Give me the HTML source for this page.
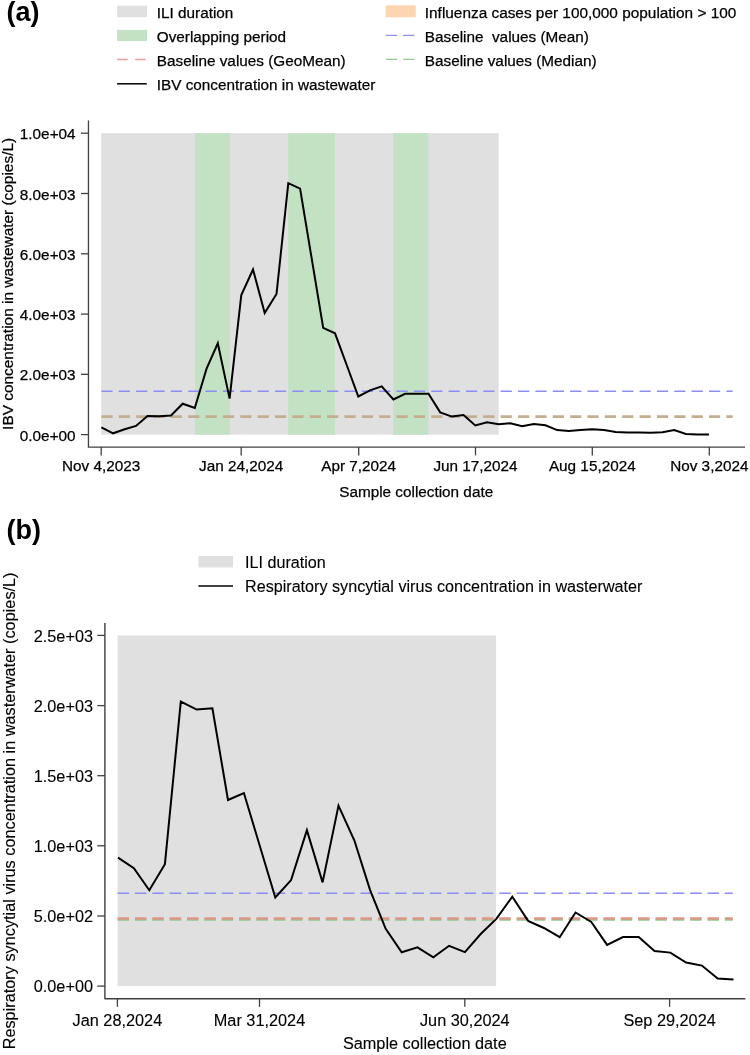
<!DOCTYPE html>
<html><head><meta charset="utf-8"><style>
html,body{margin:0;padding:0;background:#fff;}
svg{display:block;will-change:transform;}
text{font-family:"Liberation Sans",sans-serif;fill:#000;stroke:#000;stroke-width:0.25px;}
.pb text{stroke-width:0.12px;}
</style></head><body>
<svg width="750" height="1055" viewBox="0 0 750 1055">
<rect x="0" y="0" width="750" height="1055" fill="#fff"/>
<text x="6.5" y="21.0" font-size="27" font-weight="bold" style="stroke-width:0">(a)</text>
<rect x="117.1" y="5.6" width="29.9" height="11.6" fill="#e0e0e0"/>
<rect x="117.1" y="29.9" width="29.9" height="11.2" fill="#c3e2c3"/>
<line x1="117.1" y1="59.6" x2="147" y2="59.6" stroke="#e8a0a0" stroke-width="1.5" stroke-dasharray="10.6 7.5"/>
<line x1="117.1" y1="83.8" x2="146.8" y2="83.8" stroke="#000" stroke-width="1.5"/>
<text x="156.8" y="17.6" font-size="15.3" >ILI duration</text>
<text x="156.8" y="41.6" font-size="15.3" >Overlapping period</text>
<text x="156.8" y="65.6" font-size="15.3" >Baseline values (GeoMean)</text>
<text x="156.8" y="89.6" font-size="15.3" >IBV concentration in wastewater</text>
<rect x="385.6" y="5.3" width="30.1" height="12" fill="#fdd5b1"/>
<line x1="385.8" y1="35.3" x2="415.5" y2="35.3" stroke="#9090ee" stroke-width="1.3" stroke-dasharray="11.3 6"/>
<line x1="385.8" y1="59.3" x2="415.5" y2="59.3" stroke="#98c898" stroke-width="1.3" stroke-dasharray="11.3 6"/>
<text x="424.8" y="17.7" font-size="15.3" textLength="311.5" lengthAdjust="spacingAndGlyphs">Influenza cases per 100,000 population &gt; 100</text>
<text x="424.8" y="41.7" font-size="15.3" >Baseline&#160; values (Mean)</text>
<text x="424.8" y="65.6" font-size="15.3" >Baseline values (Median)</text>
<rect x="101.2" y="133.2" width="397.5" height="301.5" fill="#e0e0e0"/>
<rect x="195.0" y="133.2" width="34.9" height="301.5" fill="#c3e2c3"/>
<rect x="288.2" y="133.2" width="46.6" height="301.5" fill="#c3e2c3"/>
<rect x="393.3" y="133.2" width="35.2" height="301.5" fill="#c3e2c3"/>
<line x1="101.4" y1="391.2" x2="732.6" y2="391.2" stroke="#8c8cf5" stroke-width="1.6" stroke-dasharray="11.2 6.16"/>
<line x1="101.4" y1="416.6" x2="732.6" y2="416.6" stroke="#c4ae90" stroke-width="2.8" stroke-dasharray="11.2 6.16"/>
<path d="M101.4,427.3 L113.1,433.3 L124.7,429.3 L136.0,425.9 L147.5,416.0 L159.2,416.2 L171.0,415.5 L182.7,403.7 L194.8,408.0 L206.5,368.9 L217.8,343.3 L229.6,398.6 L241.3,295.0 L253.0,269.5 L264.7,313.1 L276.5,294.0 L288.3,183.2 L300.1,188.6 L323.2,327.9 L335.0,333.3 L346.7,365.0 L358.3,396.5 L370.0,390.4 L381.7,386.4 L393.4,399.5 L405.1,393.8 L416.8,393.8 L428.5,393.8 L440.2,412.4 L451.9,416.6 L463.6,415.0 L475.3,425.4 L487.0,422.3 L498.7,424.3 L510.4,423.3 L522.1,426.3 L533.8,424.0 L545.5,425.3 L557.2,430.1 L568.9,431.0 L580.6,430.1 L592.3,429.3 L604.0,430.1 L615.7,432.0 L627.4,432.4 L639.1,432.6 L650.8,432.8 L662.5,432.2 L674.2,430.0 L685.9,434.0 L697.6,434.4 L709.0,434.6" fill="none" stroke="#000" stroke-width="2" stroke-linejoin="miter"/>
<path d="M88.45,120.4 L88.45,447.1 L745,447.1" fill="none" stroke="#404040" stroke-width="1.3"/>
<line x1="81" y1="434.6" x2="88.5" y2="434.6" stroke="#404040" stroke-width="1.3"/>
<text x="75.6" y="440.7" font-size="15.3" text-anchor="end">0.0e+00</text>
<line x1="81" y1="374.3" x2="88.5" y2="374.3" stroke="#404040" stroke-width="1.3"/>
<text x="75.6" y="380.4" font-size="15.3" text-anchor="end">2.0e+03</text>
<line x1="81" y1="314.1" x2="88.5" y2="314.1" stroke="#404040" stroke-width="1.3"/>
<text x="75.6" y="320.2" font-size="15.3" text-anchor="end">4.0e+03</text>
<line x1="81" y1="253.8" x2="88.5" y2="253.8" stroke="#404040" stroke-width="1.3"/>
<text x="75.6" y="259.9" font-size="15.3" text-anchor="end">6.0e+03</text>
<line x1="81" y1="193.5" x2="88.5" y2="193.5" stroke="#404040" stroke-width="1.3"/>
<text x="75.6" y="199.6" font-size="15.3" text-anchor="end">8.0e+03</text>
<line x1="81" y1="133.2" x2="88.5" y2="133.2" stroke="#404040" stroke-width="1.3"/>
<text x="75.6" y="139.3" font-size="15.3" text-anchor="end">1.0e+04</text>
<line x1="101.2" y1="447.1" x2="101.2" y2="455.4" stroke="#404040" stroke-width="1.3"/>
<text x="101.2" y="471.4" font-size="15.3" text-anchor="middle">Nov 4,2023</text>
<line x1="241.2" y1="447.1" x2="241.2" y2="455.4" stroke="#404040" stroke-width="1.3"/>
<text x="241.2" y="471.4" font-size="15.3" text-anchor="middle">Jan 24,2024</text>
<line x1="358.7" y1="447.1" x2="358.7" y2="455.4" stroke="#404040" stroke-width="1.3"/>
<text x="358.7" y="471.4" font-size="15.3" text-anchor="middle">Apr 7,2024</text>
<line x1="475.5" y1="447.1" x2="475.5" y2="455.4" stroke="#404040" stroke-width="1.3"/>
<text x="475.5" y="471.4" font-size="15.3" text-anchor="middle">Jun 17,2024</text>
<line x1="592.3" y1="447.1" x2="592.3" y2="455.4" stroke="#404040" stroke-width="1.3"/>
<text x="592.3" y="471.4" font-size="15.3" text-anchor="middle">Aug 15,2024</text>
<line x1="709.3" y1="447.1" x2="709.3" y2="455.4" stroke="#404040" stroke-width="1.3"/>
<text x="709.3" y="471.4" font-size="15.3" text-anchor="middle">Nov 3,2024</text>
<text x="416.2" y="496.8" font-size="15.3" text-anchor="middle">Sample collection date</text>
<text transform="translate(13.1,283.9) rotate(-90)" x="0" y="0" font-size="15.42" text-anchor="middle">IBV concentration in wastewater (copies/L)</text>
<g class="pb">
<text x="6.5" y="538.8" font-size="27" font-weight="bold" style="stroke-width:0">(b)</text>
<rect x="198.4" y="556" width="34.6" height="11.4" fill="#e0e0e0"/>
<line x1="198.4" y1="586" x2="233" y2="586" stroke="#000" stroke-width="1.6"/>
<text x="245" y="568" font-size="16.15" >ILI duration</text>
<text x="245" y="591.6" font-size="16.15" >Respiratory syncytial virus concentration in wasterwater</text>
<rect x="117.6" y="635.5" width="378.5" height="350.6" fill="#e0e0e0"/>
<line x1="117.6" y1="893.3" x2="732.8" y2="893.3" stroke="#8c8cf5" stroke-width="1.6" stroke-dasharray="11.5 5.85"/>
<line x1="117.6" y1="919.8" x2="732.8" y2="919.8" stroke="#90c890" stroke-width="2" stroke-dasharray="11.5 5.85"/>
<line x1="117.6" y1="918.5" x2="732.8" y2="918.5" stroke="#dc9886" stroke-width="2.4" stroke-dasharray="11.5 5.85"/>
<path d="M118.0,857.6 L133.9,868.2 L149.3,890.2 L164.9,864.2 L180.8,701.6 L196.7,709.6 L212.4,708.3 L228.0,800.0 L243.9,793.0 L275.3,897.5 L291.1,880.1 L306.9,830.2 L322.6,882.4 L338.5,805.6 L354.4,840.5 L370.1,890.1 L385.7,928.9 L401.7,952.3 L417.5,947.4 L433.3,957.3 L449.1,945.8 L464.9,952.1 L480.7,934.0 L496.5,918.6 L512.3,896.7 L528.1,920.9 L543.9,928.0 L559.7,937.2 L575.5,912.5 L591.3,921.9 L607.1,944.9 L622.9,937.0 L638.7,937.0 L654.5,951.0 L670.3,952.6 L686.1,962.6 L701.9,965.6 L717.7,978.6 L733.5,979.4" fill="none" stroke="#000" stroke-width="2"/>
<path d="M104.9,623 L104.9,998.8 L745.4,998.8" fill="none" stroke="#404040" stroke-width="1.4" stroke-linejoin="round"/>
<line x1="97.3" y1="986.1" x2="104.9" y2="986.1" stroke="#404040" stroke-width="1.3"/>
<text x="93" y="992.4" font-size="16.3" text-anchor="end">0.0e+00</text>
<line x1="97.3" y1="916.0" x2="104.9" y2="916.0" stroke="#404040" stroke-width="1.3"/>
<text x="93" y="922.3" font-size="16.3" text-anchor="end">5.0e+02</text>
<line x1="97.3" y1="845.8" x2="104.9" y2="845.8" stroke="#404040" stroke-width="1.3"/>
<text x="93" y="852.1" font-size="16.3" text-anchor="end">1.0e+03</text>
<line x1="97.3" y1="775.7" x2="104.9" y2="775.7" stroke="#404040" stroke-width="1.3"/>
<text x="93" y="782.0" font-size="16.3" text-anchor="end">1.5e+03</text>
<line x1="97.3" y1="705.6" x2="104.9" y2="705.6" stroke="#404040" stroke-width="1.3"/>
<text x="93" y="711.9" font-size="16.3" text-anchor="end">2.0e+03</text>
<line x1="97.3" y1="635.4" x2="104.9" y2="635.4" stroke="#404040" stroke-width="1.3"/>
<text x="93" y="641.7" font-size="16.3" text-anchor="end">2.5e+03</text>
<line x1="117.4" y1="998.8" x2="117.4" y2="1006.8" stroke="#404040" stroke-width="1.3"/>
<text x="117.4" y="1026.3" font-size="16.3" text-anchor="middle">Jan 28,2024</text>
<line x1="259.5" y1="998.8" x2="259.5" y2="1006.8" stroke="#404040" stroke-width="1.3"/>
<text x="259.5" y="1026.3" font-size="16.3" text-anchor="middle">Mar 31,2024</text>
<line x1="464.8" y1="998.8" x2="464.8" y2="1006.8" stroke="#404040" stroke-width="1.3"/>
<text x="464.8" y="1026.3" font-size="16.3" text-anchor="middle">Jun 30,2024</text>
<line x1="669.6" y1="998.8" x2="669.6" y2="1006.8" stroke="#404040" stroke-width="1.3"/>
<text x="669.6" y="1026.3" font-size="16.3" text-anchor="middle">Sep 29,2024</text>
<text x="424.8" y="1048.6" font-size="16.3" text-anchor="middle">Sample collection date</text>
<text transform="translate(15.1,810.9) rotate(-90)" x="0" y="0" font-size="16.3" text-anchor="middle">Respiratory syncytial virus concentration in wasterwater (copies/L)</text>
</g>
</svg></body></html>
